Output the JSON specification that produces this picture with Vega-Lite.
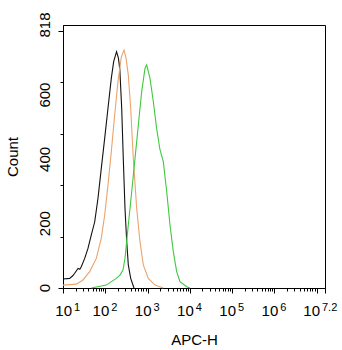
{
  "$schema": "https://vega.github.io/schema/vega-lite/v6.json",
  "width": 262,
  "height": 263,
  "autosize": {"type": "none"},
  "padding": {"left": 63, "top": 25, "right": 17, "bottom": 62},
  "background": "white",
  "config": {
    "view": {"stroke": "#000", "strokeWidth": 1},
    "font": "Liberation Sans",
    "axis": {"domainColor": "#000", "tickColor": "#000", "labelColor": "#000", "titleColor": "#000", "grid": false, "titleFontWeight": "normal"}
  },
  "datasets": {
    "curves": [
      {"s": "control", "x": 10, "c": 28}, {"s": "control", "x": 14.4, "c": 30}, {"s": "control", "x": 17, "c": 38}, {"s": "control", "x": 18.9, "c": 46}, {"s": "control", "x": 22.7, "c": 61}, {"s": "control", "x": 25, "c": 58}, {"s": "control", "x": 27.1, "c": 66}, {"s": "control", "x": 32.6, "c": 92}, {"s": "control", "x": 39, "c": 123}, {"s": "control", "x": 46.8, "c": 165}, {"s": "control", "x": 56.3, "c": 206}, {"s": "control", "x": 67.3, "c": 279}, {"s": "control", "x": 80.6, "c": 372}, {"s": "control", "x": 97, "c": 466}, {"s": "control", "x": 116, "c": 559}, {"s": "control", "x": 139, "c": 652}, {"s": "control", "x": 158, "c": 704}, {"s": "control", "x": 185, "c": 735}, {"s": "control", "x": 205, "c": 715}, {"s": "control", "x": 221, "c": 680}, {"s": "control", "x": 245, "c": 559}, {"s": "control", "x": 267, "c": 403}, {"s": "control", "x": 293, "c": 248}, {"s": "control", "x": 322, "c": 144}, {"s": "control", "x": 351, "c": 72}, {"s": "control", "x": 400, "c": 30}, {"s": "control", "x": 479, "c": 0},
      {"s": "isotype", "x": 10, "c": 9}, {"s": "isotype", "x": 20.7, "c": 12}, {"s": "isotype", "x": 29.7, "c": 25}, {"s": "isotype", "x": 42.8, "c": 51}, {"s": "isotype", "x": 61.4, "c": 92}, {"s": "isotype", "x": 80.6, "c": 155}, {"s": "isotype", "x": 97, "c": 227}, {"s": "isotype", "x": 116, "c": 320}, {"s": "isotype", "x": 139, "c": 424}, {"s": "isotype", "x": 167, "c": 538}, {"s": "isotype", "x": 200, "c": 642}, {"s": "isotype", "x": 240, "c": 719}, {"s": "isotype", "x": 278, "c": 740}, {"s": "isotype", "x": 310, "c": 715}, {"s": "isotype", "x": 351, "c": 663}, {"s": "isotype", "x": 400, "c": 559}, {"s": "isotype", "x": 461, "c": 403}, {"s": "isotype", "x": 554, "c": 248}, {"s": "isotype", "x": 664, "c": 144}, {"s": "isotype", "x": 795, "c": 72}, {"s": "isotype", "x": 1043, "c": 30}, {"s": "isotype", "x": 1502, "c": 9}, {"s": "isotype", "x": 2363, "c": 0},
      {"s": "sample", "x": 46.8, "c": 0}, {"s": "sample", "x": 106, "c": 9}, {"s": "sample", "x": 182, "c": 30}, {"s": "sample", "x": 223, "c": 40}, {"s": "sample", "x": 263, "c": 56}, {"s": "sample", "x": 293, "c": 92}, {"s": "sample", "x": 351, "c": 196}, {"s": "sample", "x": 423, "c": 300}, {"s": "sample", "x": 506, "c": 403}, {"s": "sample", "x": 606, "c": 507}, {"s": "sample", "x": 728, "c": 611}, {"s": "sample", "x": 871, "c": 683}, {"s": "sample", "x": 956, "c": 694}, {"s": "sample", "x": 1145, "c": 652}, {"s": "sample", "x": 1371, "c": 580}, {"s": "sample", "x": 1648, "c": 495}, {"s": "sample", "x": 1972, "c": 430}, {"s": "sample", "x": 2363, "c": 393}, {"s": "sample", "x": 2843, "c": 300}, {"s": "sample", "x": 3404, "c": 196}, {"s": "sample", "x": 4077, "c": 113}, {"s": "sample", "x": 4900, "c": 51}, {"s": "sample", "x": 5870, "c": 20}, {"s": "sample", "x": 8450, "c": 4}, {"s": "sample", "x": 10100, "c": 0}
    ],
    "xlabels": [
      {"x": 10, "e": "1", "pos": "first"},
      {"x": 100, "e": "2", "pos": "mid"},
      {"x": 1000, "e": "3", "pos": "mid"},
      {"x": 10000, "e": "4", "pos": "mid"},
      {"x": 100000, "e": "5", "pos": "mid"},
      {"x": 1000000, "e": "6", "pos": "mid"},
      {"x": 15848931.92, "e": "7.2", "pos": "last"}
    ],
    "ylabels": [
      {"c": 0, "t": "0"}, {"c": 200, "t": "200"}, {"c": 400, "t": "400"}, {"c": 600, "t": "600"}, {"c": 818, "t": "818"}
    ]
  },
  "layer": [
    {
      "data": {"name": "curves"},
      "mark": {"type": "line", "strokeWidth": 1.1, "interpolate": "linear"},
      "encoding": {
        "x": {
          "field": "x", "type": "quantitative",
          "scale": {"type": "log", "domain": [10, 15848931.92], "nice": false},
          "axis": {
            "title": "APC-H", "titleFontSize": 15, "titlePadding": 39, "labels": false,
            "values": [10, 20, 30, 40, 50, 60, 70, 80, 90, 100, 200, 300, 400, 500, 600, 700, 800, 900, 1000, 2000, 3000, 4000, 5000, 6000, 7000, 8000, 9000, 10000, 20000, 30000, 40000, 50000, 60000, 70000, 80000, 90000, 100000, 200000, 300000, 400000, 500000, 600000, 700000, 800000, 900000, 1000000, 2000000, 3000000, 4000000, 5000000, 6000000, 7000000, 8000000, 9000000, 10000000, 15848931.92],
            "tickSize": {"condition": {"test": "abs(log(datum.value)/LN10 - round(log(datum.value)/LN10)) < 0.001 || datum.value > 15000000", "value": 5}, "value": 3}
          }
        },
        "y": {
          "field": "c", "type": "quantitative",
          "scale": {"domain": [0, 818], "nice": false, "zero": true},
          "axis": {
            "title": "Count", "titleFontSize": 15, "titlePadding": 37, "labels": false,
            "values": [0, 40, 80, 120, 160, 200, 240, 280, 320, 360, 400, 440, 480, 520, 560, 600, 640, 680, 720, 760, 800, 818],
            "tickSize": {"condition": {"test": "datum.value % 200 == 0 || datum.value == 818", "value": 5}, "value": 3}
          }
        },
        "color": {
          "field": "s", "type": "nominal", "legend": null,
          "scale": {"domain": ["control", "isotype", "sample"], "range": ["#111111", "#eba46c", "#40c840"]}
        }
      }
    },
    {
      "data": {"name": "ylabels"},
      "mark": {"type": "text", "fontSize": 15, "angle": 270, "align": "center", "baseline": "alphabetic", "dy": -13, "color": "#000"},
      "encoding": {"x": {"datum": 10, "type": "quantitative"}, "y": {"field": "c", "type": "quantitative"}, "text": {"field": "t"}}
    },
    {
      "data": {"name": "xlabels"},
      "transform": [{"filter": "datum.pos == 'mid'"}],
      "mark": {"type": "text", "text": "10", "fontSize": 15, "align": "right", "baseline": "alphabetic", "dx": 4, "dy": 28, "color": "#000"},
      "encoding": {"x": {"field": "x", "type": "quantitative"}, "y": {"datum": 0, "type": "quantitative"}}
    },
    {
      "data": {"name": "xlabels"},
      "transform": [{"filter": "datum.pos == 'mid'"}],
      "mark": {"type": "text", "fontSize": 11, "align": "left", "baseline": "alphabetic", "dx": 6, "dy": 23, "color": "#000"},
      "encoding": {"x": {"field": "x", "type": "quantitative"}, "y": {"datum": 0, "type": "quantitative"}, "text": {"field": "e"}}
    },
    {
      "data": {"name": "xlabels"},
      "transform": [{"filter": "datum.pos == 'first'"}],
      "mark": {"type": "text", "text": "10", "fontSize": 15, "align": "right", "baseline": "alphabetic", "dx": 9, "dy": 28, "color": "#000"},
      "encoding": {"x": {"field": "x", "type": "quantitative"}, "y": {"datum": 0, "type": "quantitative"}}
    },
    {
      "data": {"name": "xlabels"},
      "transform": [{"filter": "datum.pos == 'first'"}],
      "mark": {"type": "text", "fontSize": 11, "align": "left", "baseline": "alphabetic", "dx": 11, "dy": 23, "color": "#000"},
      "encoding": {"x": {"field": "x", "type": "quantitative"}, "y": {"datum": 0, "type": "quantitative"}, "text": {"field": "e"}}
    },
    {
      "data": {"name": "xlabels"},
      "transform": [{"filter": "datum.pos == 'last'"}],
      "mark": {"type": "text", "text": "10", "fontSize": 15, "align": "right", "baseline": "alphabetic", "dx": -5, "dy": 28, "color": "#000"},
      "encoding": {"x": {"field": "x", "type": "quantitative"}, "y": {"datum": 0, "type": "quantitative"}}
    },
    {
      "data": {"name": "xlabels"},
      "transform": [{"filter": "datum.pos == 'last'"}],
      "mark": {"type": "text", "fontSize": 11, "align": "left", "baseline": "alphabetic", "dx": -3, "dy": 23, "color": "#000"},
      "encoding": {"x": {"field": "x", "type": "quantitative"}, "y": {"datum": 0, "type": "quantitative"}, "text": {"field": "e"}}
    }
  ]
}
